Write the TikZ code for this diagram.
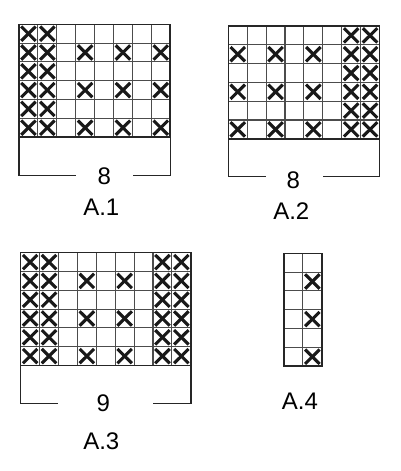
\documentclass[tikz,border=0pt]{standalone}
\usepackage{fontspec}
\setmainfont{Liberation Sans}
\usetikzlibrary{positioning}

\newcommand{\cw}{18.9}
\newcommand{\chh}{18.8}

% grid of cols x rows cells, origin top left
\newcommand{\knitgrid}[2]{%
  \foreach \c in {0,...,#1} \draw[gridline] ({\c*\cw},0) -- ({\c*\cw},{#2*\chh});
  \foreach \r in {0,...,#2} \draw[gridline] (0,{\r*\chh}) -- ({#1*\cw},{\r*\chh});
}
\newcommand{\knitcross}[2]{%
  \draw[cross] ({(#1-1)*\cw+2.2},{(#2-1)*\chh+2.2}) -- ({#1*\cw-2.2},{#2*\chh-2.2});
  \draw[cross] ({(#1-1)*\cw+2.2},{#2*\chh-2.2}) -- ({#1*\cw-2.2},{(#2-1)*\chh+2.2});
}

\begin{document}
\begin{tikzpicture}[x=1pt,y=-1pt,
  every node/.style={font=\fontsize{24}{28}\selectfont,inner sep=0pt}
]

\tikzstyle{gridline}=[draw=black!70,line width=1.1pt]
\tikzstyle{frame}=[draw=black!85,line width=1.5pt]
\tikzstyle{cross}=[draw=black!90,line width=3.1pt]
\tikzstyle{bracket}=[draw=black!85,line width=1.4pt]

\useasboundingbox (0,0) rectangle (400,471);

% A.1
\begin{scope}[shift={(19,24.3)}]
  \knitgrid{8}{6}
  \foreach \r in {1,...,6} {\knitcross{1}{\r} \knitcross{2}{\r}}
  \foreach \r in {2,4,6} \foreach \c in {4,6,8} {\knitcross{\c}{\r}}
  \draw[frame] (0,0) rectangle ({8*\cw},{6*\chh});
  \node (n1) at (85.3,152.4) {8};
  \draw[bracket] (0,{6*\chh}) |- (57,151.4);
  \draw[bracket] ({8*\cw},{6*\chh}) |- (113.7,151.4);
\end{scope}
\node[below=13pt of n1,xshift=-3pt] (a1) {A.1};

% A.2
\begin{scope}[shift={(228.3,26)}]
  \knitgrid{8}{6}
  \foreach \r in {1,...,6} {\knitcross{7}{\r} \knitcross{8}{\r}}
  \foreach \r in {2,4,6} \foreach \c in {1,3,5} {\knitcross{\c}{\r}}
  \draw[frame] (0,0) rectangle ({8*\cw},{6*\chh});
  \node (n2) at (65,154.7) {8};
  \draw[bracket] (0,{6*\chh}) |- (37.7,150.7);
  \draw[bracket] ({8*\cw},{6*\chh}) |- (95,150.7);
\end{scope}
\node[below=13pt of n2,xshift=-2pt] (a2) {A.2};

% A.3
\begin{scope}[shift={(20.7,252.7)}]
  \knitgrid{9}{6}
  \foreach \r in {1,...,6} {\knitcross{1}{\r} \knitcross{2}{\r} \knitcross{8}{\r} \knitcross{9}{\r}}
  \foreach \r in {2,4,6} \foreach \c in {4,6} {\knitcross{\c}{\r}}
  \draw[frame] (0,0) rectangle ({9*\cw},{6*\chh});
  \node (n3) at (82.6,150.6) {9};
  \draw[bracket] (0,{6*\chh}) |- (37.6,150.6);
  \draw[bracket] ({9*\cw},{6*\chh}) |- (132,150.6);
\end{scope}
\node[below=21pt of n3,xshift=-2pt] (a3) {A.3};

% A.4
\begin{scope}[shift={(284,253.3)}]
  \knitgrid{2}{6}
  \foreach \r in {2,4,6} {\knitcross{2}{\r}}
  \draw[frame] (0,0) rectangle ({2*\cw},{6*\chh});
  \node (a4) at (16,148.4) {A.4};
\end{scope}

\end{tikzpicture}
\end{document}
